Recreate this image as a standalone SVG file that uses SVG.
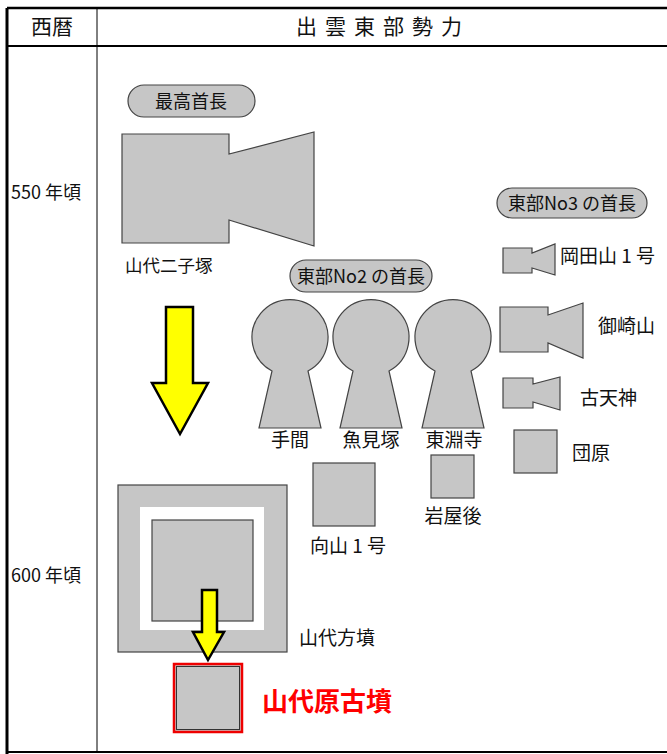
<svg xmlns="http://www.w3.org/2000/svg" width="667" height="754" viewBox="0 0 667 754">
<style>
text{font-family:"Noto Sans CJK JP","Noto Sans",sans-serif;fill:#111;}
.g{fill:#c6c6c6;stroke:#444;stroke-width:1.2;}
.lbl{font-size:19px;}
.pill{font-size:18px;text-anchor:middle;}
.arrow{fill:#ffff00;stroke:#000;stroke-width:2.5;stroke-linejoin:miter;}
</style>
<rect width="667" height="754" fill="#fff"/>
<g id="frame" fill="none" stroke="#000">
<line x1="7" y1="8" x2="667" y2="8" stroke-width="2.5"/>
<line x1="7" y1="46" x2="667" y2="46" stroke-width="2"/>
<line x1="7" y1="8" x2="7" y2="754" stroke-width="3"/>
<line x1="97" y1="8" x2="97" y2="752" stroke-width="1"/>
<line x1="7" y1="752" x2="667" y2="752" stroke-width="2"/>
</g>
<g id="header">
<text x="52" y="34" font-size="21" text-anchor="middle">西暦</text>
<text x="383" y="34" font-size="21" text-anchor="middle" letter-spacing="8">出雲東部勢力</text>
</g>
<g id="years">
<text x="11" y="199" font-size="18">550 年頃</text>
<text x="11" y="582" font-size="18">600 年頃</text>
</g>
<g id="top-chief">
<rect class="g" x="128" y="85" width="127" height="32" rx="16" stroke="none"/>
<text class="pill" x="191" y="108">最高首長</text>
</g>
<g id="yamashiro-futagozuka">
<polygon class="g" points="122,134 229,134 229,154 314,132 314,246 229,220 229,243 122,243"/>
<text x="125" y="272" font-size="17.5">山代二子塚</text>
</g>
<g id="no2-chief">
<rect class="g" x="290" y="260" width="142" height="32" rx="16" stroke="none"/>
<text class="pill" x="361" y="283">東部No2 の首長</text>
</g>
<g id="tema">
<path class="g" d="M272,371 A38,38 0 1 1 308,371 L321,428 L259,428 Z"/>
<text class="lbl" x="290" y="447" text-anchor="middle">手間</text>
</g>
<g id="uomizuka">
<path class="g" d="M353,371 A38,38 0 1 1 389,371 L402,428 L340,428 Z"/>
<text class="lbl" x="371" y="447" text-anchor="middle">魚見塚</text>
</g>
<g id="toenji">
<path class="g" d="M435,371 A38,38 0 1 1 471,371 L484,428 L422,428 Z"/>
<text class="lbl" x="454" y="447" text-anchor="middle">東淵寺</text>
</g>
<g id="no3-chief">
<rect class="g" x="497" y="188" width="150" height="30" rx="15" stroke="none"/>
<text class="pill" x="572" y="210">東部No3 の首長</text>
</g>
<g id="okadayama">
<polygon class="g" points="503,248 532,248 532,253 555,244 555,275 532,268 532,273 503,273"/>
<text class="lbl" x="560" y="263">岡田山 1 号</text>
</g>
<g id="misakiyama">
<polygon class="g" points="500,307 548,307 548,315 583,303 583,358 548,343 548,352 500,352"/>
<text class="lbl" x="598" y="333">御崎山</text>
</g>
<g id="kotenjin">
<polygon class="g" points="503,378 533,378 533,384 560,377 560,410 533,402 533,408 503,408"/>
<text class="lbl" x="580" y="405">古天神</text>
</g>
<g id="danbara">
<rect class="g" x="514" y="430" width="43" height="43"/>
<text class="lbl" x="572" y="460">団原</text>
</g>
<g id="mukaiyama">
<rect class="g" x="313" y="463" width="62" height="63"/>
<text class="lbl" x="310" y="553">向山 1 号</text>
</g>
<g id="iwayago">
<rect class="g" x="431" y="455" width="43" height="43"/>
<text class="lbl" x="453" y="523" text-anchor="middle">岩屋後</text>
</g>
<g id="yamashiro-hofun">
<rect class="g" x="118" y="485" width="169" height="167"/>
<rect x="140" y="507" width="124" height="123" fill="#fff"/>
<rect class="g" x="152" y="520" width="101" height="101"/>
<text class="lbl" x="299" y="645">山代方墳</text>
</g>
<g id="yamashirobara">
<rect x="174" y="664" width="68" height="68" style="fill:#c6c6c6;stroke:#ee0000;stroke-width:2.5"/>
<rect x="176.5" y="666.5" width="63" height="63" fill="none" stroke="#333" stroke-width="1"/>
<text x="262" y="711" font-size="26" font-weight="bold" style="fill:#ff0000">山代原古墳</text>
</g>
<g id="connectors">
<polygon class="arrow" points="166,307 193,307 193,383 208,383 180,434 152,383 166,383"/>
<polygon class="arrow" points="202,590 217,590 217,632 224,632 208,660 193,632 202,632"/>
</g>
</svg>
